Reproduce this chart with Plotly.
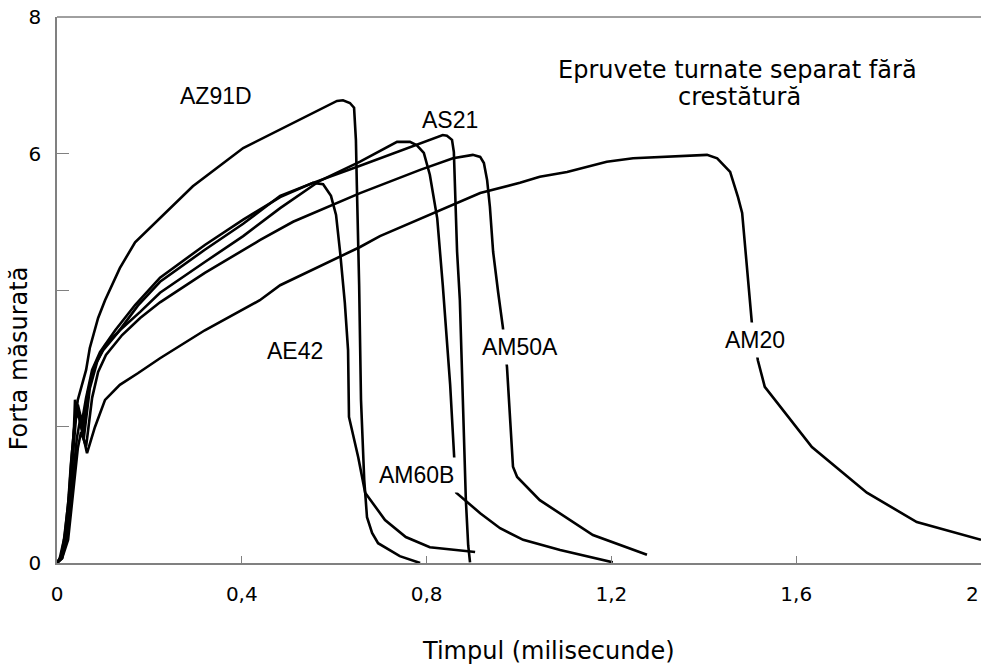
import plotly.graph_objects as go

# Time (ms) and measured force for each alloy specimen
az91d_t = [0, 0.006, 0.015, 0.024, 0.030, 0.037, 0.045, 0.054, 0.063, 0.071, 0.089, 0.104, 0.136, 0.169,
           0.223, 0.294, 0.403, 0.504, 0.606, 0.619, 0.634, 0.643, 0.647, 0.649, 0.654, 0.658, 0.665,
           0.671, 0.682, 0.695, 0.742, 0.786]
az91d_f = [0, 0.07, 0.34, 0.85, 1.44, 1.95, 2.39, 2.61, 2.83, 3.15, 3.59, 3.85, 4.32, 4.70,
           5.05, 5.52, 6.08, 6.42, 6.77, 6.78, 6.74, 6.67, 6.20, 5.54, 4.07, 2.39, 1.22,
           0.67, 0.44, 0.29, 0.10, 0.00]

ae42_t = [0, 0.009, 0.017, 0.026, 0.032, 0.039, 0.045, 0.054, 0.063, 0.076, 0.093, 0.126, 0.169, 0.223,
          0.320, 0.403, 0.483, 0.526, 0.554, 0.576, 0.593, 0.604, 0.613, 0.623, 0.630, 0.632, 0.652,
          0.667, 0.710, 0.755, 0.807, 0.905]
ae42_f = [0, 0.10, 0.41, 1.00, 1.58, 2.12, 2.32, 2.07, 2.42, 2.83, 3.09, 3.41, 3.78, 4.18,
          4.66, 5.03, 5.36, 5.48, 5.57, 5.55, 5.38, 5.10, 4.54, 3.81, 3.12, 2.14, 1.55,
          1.03, 0.63, 0.38, 0.23, 0.16]

as21_t = [0, 0.009, 0.019, 0.028, 0.035, 0.041, 0.048, 0.056, 0.067, 0.082, 0.100, 0.132, 0.175, 0.223,
          0.320, 0.403, 0.483, 0.554, 0.656, 0.742, 0.807, 0.835, 0.844, 0.855, 0.859, 0.866, 0.872,
          0.877, 0.881, 0.885, 0.890, 0.894]
as21_f = [0, 0.09, 0.41, 1.00, 1.63, 2.12, 2.21, 1.95, 2.51, 2.90, 3.12, 3.38, 3.77, 4.12,
          4.59, 4.97, 5.38, 5.57, 5.82, 6.04, 6.20, 6.27, 6.26, 6.20, 6.02, 4.56, 3.85,
          2.68, 1.80, 0.92, 0.26, 0.01]

am60b_t = [0, 0.011, 0.022, 0.030, 0.037, 0.043, 0.050, 0.058, 0.071, 0.087, 0.104, 0.136, 0.180, 0.223,
           0.320, 0.403, 0.483, 0.569, 0.656, 0.736, 0.764, 0.779, 0.794, 0.807, 0.823, 0.835, 0.851,
           0.857, 0.861, 0.864, 0.916, 0.959, 1.009, 1.089, 1.203]
am60b_f = [0, 0.09, 0.38, 0.92, 1.44, 1.83, 2.10, 1.83, 2.56, 2.95, 3.19, 3.41, 3.68, 3.96,
           4.41, 4.79, 5.20, 5.60, 5.88, 6.17, 6.17, 6.12, 6.01, 5.69, 5.05, 4.07, 2.61,
           1.85, 1.22, 1.03, 0.73, 0.51, 0.34, 0.19, 0.01]

am50a_t = [0, 0.011, 0.024, 0.032, 0.039, 0.045, 0.052, 0.063, 0.076, 0.089, 0.106, 0.141, 0.180, 0.223,
           0.320, 0.368, 0.439, 0.511, 0.656, 0.786, 0.857, 0.900, 0.916, 0.924, 0.931, 0.937, 0.944,
           0.955, 0.965, 0.974, 0.987, 0.996, 1.045, 1.160, 1.277]
am50a_f = [0, 0.07, 0.34, 0.85, 1.36, 1.68, 1.92, 1.71, 2.42, 2.80, 3.05, 3.34, 3.59, 3.82,
           4.25, 4.44, 4.73, 5.00, 5.42, 5.76, 5.93, 5.98, 5.95, 5.86, 5.61, 5.22, 4.56,
           3.96, 3.46, 2.87, 1.41, 1.26, 0.92, 0.41, 0.12]

am20_t = [0, 0.011, 0.019, 0.028, 0.035, 0.039, 0.065, 0.082, 0.104, 0.136, 0.175, 0.223, 0.320, 0.439,
          0.483, 0.569, 0.656, 0.699, 0.829, 0.916, 1.002, 1.045, 1.104, 1.190, 1.247, 1.305, 1.333,
          1.392, 1.407, 1.429, 1.457, 1.474, 1.483, 1.504, 1.517, 1.532, 1.634, 1.753, 1.861, 2.0]
am20_f = [0, 0.07, 0.34, 0.92, 1.66, 2.39, 1.61, 1.99, 2.39, 2.61, 2.78, 3.00, 3.41, 3.85,
          4.07, 4.35, 4.63, 4.79, 5.17, 5.42, 5.57, 5.66, 5.73, 5.88, 5.93, 5.95, 5.95,
          5.98, 5.98, 5.93, 5.73, 5.36, 5.13, 3.52, 2.97, 2.58, 1.70, 1.03, 0.60, 0.34]

series = [
    ("AZ91D", az91d_t, az91d_f),
    ("AE42", ae42_t, ae42_f),
    ("AS21", as21_t, as21_f),
    ("AM60B", am60b_t, am60b_f),
    ("AM50A", am50a_t, am50a_f),
    ("AM20", am20_t, am20_f),
]

# Curve labels: (text, time, force, white box behind text)
labels = [
    ("AZ91D", 0.344, 6.84, False),
    ("AS21", 0.851, 6.49, False),
    ("AE42", 0.515, 3.11, False),
    ("AM60B", 0.778, 1.29, True),
    ("AM50A", 1.003, 3.17, True),
    ("AM20", 1.511, 3.27, True),
]

# the label of the last x tick is drawn separately, flush with the right edge
x_ticks = [0, 0.4, 0.8, 1.2, 1.6, 2]
x_ticktext = ["0", "0,4", "0,8", "1,2", "1,6", ""]
x_last_tick = 2
x_last_ticktext = "2"
y_ticks = [0, 2, 4, 6, 8]
y_ticktext = ["0", "", "", "6", "8"]

AXIS_FONT = "DejaVu Sans, Verdana, sans-serif"
LABEL_FONT = "Liberation Sans, Arial, sans-serif"

fig = go.Figure()
for name, t, f in series:
    fig.add_trace(go.Scatter(x=t, y=f, mode="lines", name=name,
                             line=dict(color="black", width=2.6)))

for text, x, y, boxed in labels:
    fig.add_annotation(x=x, y=y, xref="x", yref="y", text=text, showarrow=False,
                       xanchor="center", yanchor="middle",
                       font=dict(family=LABEL_FONT, size=23, color="black"),
                       bgcolor="white" if boxed else "rgba(0,0,0,0)", borderpad=4)

fig.add_annotation(x=1.474, y=7.23, xref="x", yref="y", text="Epruvete turnate separat fără",
                   xanchor="center", yanchor="middle", showarrow=False,
                   font=dict(family=AXIS_FONT, size=24, color="black"))
fig.add_annotation(x=1.478, y=6.83, xref="x", yref="y", text="crestătură",
                   xanchor="center", yanchor="middle", showarrow=False,
                   font=dict(family=AXIS_FONT, size=24, color="black"))

fig.add_annotation(x=0.532, y=-0.161, xref="paper", yref="paper", text="Timpul (milisecunde)",
                   xanchor="center", yanchor="middle", showarrow=False,
                   font=dict(family=AXIS_FONT, size=24, color="black"))
fig.add_annotation(x=-0.041, y=0.375, xref="paper", yref="paper", text="Forta măsurată",
                   xanchor="center", yanchor="middle", textangle=-90, showarrow=False,
                   font=dict(family=AXIS_FONT, size=24, color="black"))

fig.add_annotation(x=x_last_tick, y=-0.057, xref="x", yref="paper", text=x_last_ticktext,
                   xanchor="right", yanchor="middle", showarrow=False,
                   font=dict(family=AXIS_FONT, size=20, color="black"))

# frame line along the top of the plotting area
fig.add_shape(type="line", xref="paper", yref="paper", x0=0, x1=1, y0=1, y1=1,
              line=dict(color="#404040", width=1))

fig.update_xaxes(range=[0, 2], tickvals=x_ticks, ticktext=x_ticktext,
                 ticks="inside", ticklen=7, tickcolor="#808080", tickwidth=1,
                 showline=True, linecolor="#808080", linewidth=2,
                 showgrid=False, zeroline=False,
                 ticklabelstandoff=12, automargin=False,
                 tickfont=dict(family=AXIS_FONT, size=20, color="black"))
fig.update_yaxes(range=[0, 8], tickvals=y_ticks, ticktext=y_ticktext,
                 ticks="inside", ticklen=12, tickcolor="#808080", tickwidth=1,
                 showline=True, linecolor="#808080", linewidth=1.5,
                 showgrid=False, zeroline=False, ticklabelstandoff=10, automargin=False,
                 tickfont=dict(family=AXIS_FONT, size=20, color="black"))

fig.update_layout(width=981, height=666, margin=dict(l=57, r=0, t=17, b=103),
                  plot_bgcolor="white", paper_bgcolor="white", showlegend=False)

fig.write_html("out.html")
